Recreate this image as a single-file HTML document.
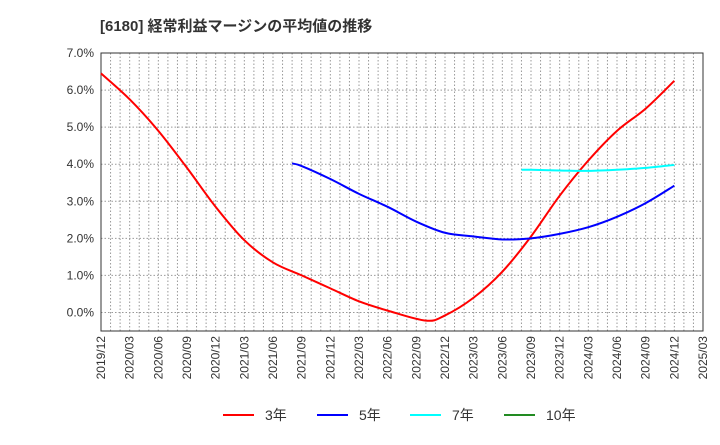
<!DOCTYPE html>
<html><head><meta charset="utf-8"><style>
body{margin:0;background:#fff;font-family:"Liberation Sans","Noto Sans CJK JP",sans-serif}
</style></head><body>
<svg id="c" width="720" height="440" xmlns="http://www.w3.org/2000/svg">
<text x="100" y="31" font-size="15" font-weight="bold" fill="#333" font-family="Liberation Sans, Noto Sans CJK JP, sans-serif">[6180]  経常利益マージンの平均値の推移</text>
<g id="grid"></g><g id="axes"></g><g id="series"></g><g id="legend"></g>
</svg>
<script>
const xTicks=["2019/12","2020/03","2020/06","2020/09","2020/12","2021/03","2021/06","2021/09","2021/12","2022/03","2022/06","2022/09","2022/12","2023/03","2023/06","2023/09","2023/12","2024/03","2024/06","2024/09","2024/12","2025/03"];
const yTicks=[0,1,2,3,4,5,6,7];
const s3Dates=["2019/12","2020/03","2020/06","2020/09","2020/12","2021/03","2021/06","2021/09","2021/12","2022/03","2022/06","2022/10","2022/12","2023/03","2023/06","2023/09","2023/12","2024/03","2024/06","2024/09","2024/12"];
const s3Vals=[6.45,5.75,4.9,3.9,2.85,1.95,1.35,1.0,0.65,0.3,0.05,-0.22,-0.08,0.4,1.1,2.05,3.15,4.1,4.9,5.5,6.25];
const s5Dates=["2021/08","2021/09","2021/12","2022/03","2022/06","2022/09","2022/12","2023/03","2023/06","2023/09","2023/12","2024/03","2024/06","2024/09","2024/12"];
const s5Vals=[4.02,3.95,3.6,3.2,2.85,2.45,2.15,2.05,1.97,2.0,2.12,2.3,2.58,2.95,3.42];
const s7Dates=["2023/08","2023/09","2023/12","2024/03","2024/06","2024/09","2024/12"];
const s7Vals=[3.85,3.85,3.83,3.82,3.85,3.9,3.98];
const L=101,R=703,T=53,B=331,yMin=-0.5,yMax=7;
const NS="http://www.w3.org/2000/svg";
function mi(d){const[a,b]=d.split("/").map(Number);return (a-2019)*12+(b-12);}
const xS=d=>L+(R-L)*mi(d)/63;
const yS=v=>B-(B-T)*(v-yMin)/(yMax-yMin);
function mk(t,a,p){const e=document.createElementNS(NS,t);for(const k in a)e.setAttribute(k,a[k]);p.appendChild(e);return e;}
const g=document.getElementById("grid"),ax=document.getElementById("axes");
for(let m=1;m<63;m++){const x=L+(R-L)*m/63;const l=mk("line",{x1:x,x2:x,y1:T,y2:B,stroke:"#999","stroke-dasharray":"1.5,2","stroke-width":1},g);}
yTicks.forEach(v=>{const y=yS(v);const l=mk("line",{x1:L,x2:R,y1:y,y2:y,stroke:"#999","stroke-dasharray":"1.5,2"},g);
const t=mk("text",{x:L-7,y:y+4,"text-anchor":"end","font-size":12,fill:"#333"},ax);t.textContent=v.toFixed(1)+"%";});
const fr=mk("rect",{x:L,y:T,width:R-L,height:B-T,fill:"none",stroke:"#333"},ax);
xTicks.forEach(d=>{const x=xS(d);const t=mk("text",{transform:`translate(${x+4},${B+5}) rotate(-90)`,"text-anchor":"end","font-size":12,fill:"#333"},ax);t.textContent=d;});
function path(ds,vs){const p=ds.map((d,i)=>[xS(d),yS(vs[i])]);let s=`M${p[0][0]},${p[0][1]}`;for(let i=0;i<p.length-1;i++){const p0=p[i-1]||p[i],p1=p[i],p2=p[i+1],p3=p[i+2]||p2;s+=`C${p1[0]+(p2[0]-p0[0])/6},${p1[1]+(p2[1]-p0[1])/6} ${p2[0]-(p3[0]-p1[0])/6},${p2[1]-(p3[1]-p1[1])/6} ${p2[0]},${p2[1]}`;}return s;}
const sg=document.getElementById("series");
[[s3Dates,s3Vals,"#f00","series-3yr"],[s5Dates,s5Vals,"#00f","series-5yr"],[s7Dates,s7Vals,"#0ff","series-7yr"]].forEach(([d,v,c,n])=>{const e=mk("path",{d:path(d,v),fill:"none",stroke:c,"stroke-width":2},sg);});
const lg=document.getElementById("legend");
[["3年","#f00",223],["5年","#00f",317],["7年","#0ff",410],["10年","#228b22",504]].forEach(([t,c,x])=>{const l=mk("line",{x1:x,x2:x+31,y1:415,y2:415,stroke:c,"stroke-width":2},lg);const tx=mk("text",{x:x+42,y:420,"font-size":14,fill:"#333"},lg);tx.textContent=t;});
</script>
</body></html>
